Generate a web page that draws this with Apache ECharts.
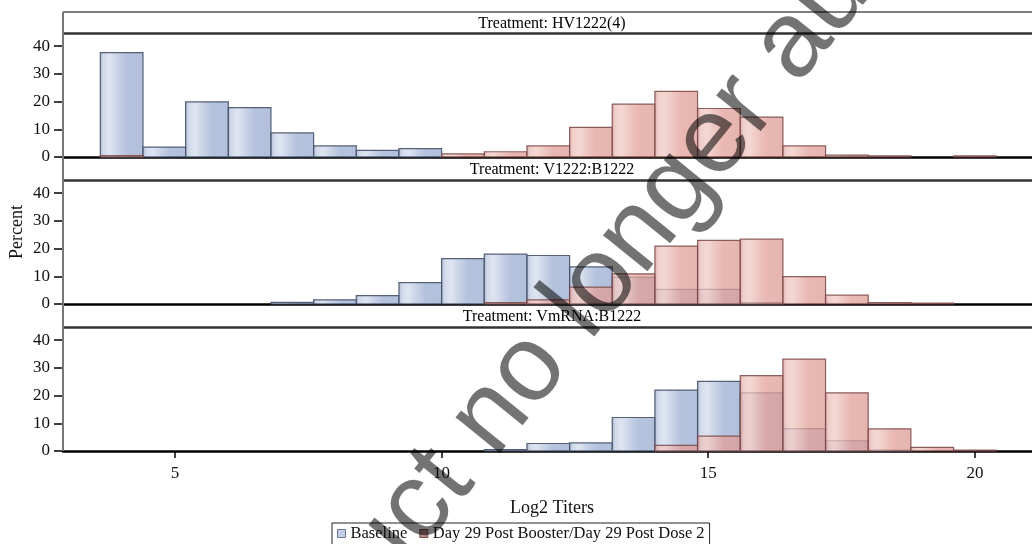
<!DOCTYPE html>
<html>
<head>
<meta charset="utf-8">
<script src="https://cdn.jsdelivr.net/npm/echarts@6/dist/echarts.min.js"></script>
<style>html,body{margin:0;padding:0;background:#fff;}#c{width:1032px;height:544px;}</style>
</head>
<body>
<div id="c"></div>
<script>
// ---- data ----
const binCenters = [4.0, 4.8, 5.6, 6.4, 7.2, 8.0, 8.8, 9.6, 10.4, 11.2, 12.0, 12.8, 13.6, 14.4, 15.2, 16.0, 16.8, 17.6, 18.4, 19.2, 20.0];
const binWidth = 0.8;
const hvBaseline = [37.7, 3.6, 19.9, 17.8, 8.7, 4.0, 2.4, 3.0, 0, 0, 0, 0, 0, 0, 0, 0, 0, 0, 0, 0, 0];
const hvDay29    = [0.5, 0, 0, 0, 0, 0, 0, 0, 1.1, 1.9, 4.0, 10.7, 19.1, 23.7, 17.5, 14.4, 4.0, 0.7, 0.4, 0, 0.4];
const vbBaseline = [0, 0, 0, 0, 0.6, 1.5, 3.0, 7.7, 16.4, 18.0, 17.5, 13.4, 9.6, 5.3, 5.3, 0.5, 0, 0, 0, 0, 0];
const vbDay29    = [0, 0, 0, 0, 0, 0, 0, 0, 0, 0.5, 1.5, 6.1, 10.9, 20.9, 23.0, 23.4, 9.9, 3.2, 0.5, 0.3, 0];
const vmBaseline = [0, 0, 0, 0, 0, 0, 0, 0, 0, 0.5, 2.7, 2.9, 12.1, 22.0, 25.1, 21.0, 8.1, 3.7, 0.3, 0, 0];
const vmDay29    = [0, 0, 0, 0, 0, 0, 0, 0, 0, 0, 0, 0, 0, 2.0, 5.4, 27.2, 33.2, 21.0, 8.0, 1.3, 0.3];
const panelTitles = ['Treatment: HV1222(4)', 'Treatment: V1222:B1222', 'Treatment: VmRNA:B1222'];
const seriesNames = ['Baseline', 'Day 29 Post Booster/Day 29 Post Dose 2'];
const xTicks = [5, 10, 15, 20];
const yTicks = [0, 10, 20, 30, 40];
const xTitle = 'Log2 Titers';
const yTitle = 'Percent';
const watermarkA = 'Medicinal product';
const watermarkB = 'no longer authorised';

// ---- layout / style ----
const FONT = '"Liberation Serif", "Times New Roman", serif';
const gridLeft = 63, gridWidth = 978, gridH = 123;
const gridTops = [34, 181, 328];
const headerTops = [12, 157, 304];
const xMin = 2.9, xMax = 21.24, yMax = 44.4;

const blueStops = [
  {offset: 0, color: 'rgba(140,158,196,0.78)'},
  {offset: 0.08, color: 'rgba(196,207,228,0.78)'},
  {offset: 0.22, color: 'rgba(214,221,236,0.78)'},
  {offset: 0.6, color: 'rgba(160,178,212,0.78)'},
  {offset: 1, color: 'rgba(156,174,210,0.78)'}
];
const redStops = [
  {offset: 0, color: 'rgba(206,140,134,0.75)'},
  {offset: 0.08, color: 'rgba(234,190,184,0.75)'},
  {offset: 0.22, color: 'rgba(240,202,196,0.75)'},
  {offset: 0.6, color: 'rgba(226,160,152,0.75)'},
  {offset: 1, color: 'rgba(222,156,148,0.75)'}
];

function makeRender(stops, stroke) {
  return function (params, api) {
    const c = api.value(0), v = api.value(1);
    if (!(v > 0)) return null;
    const tl = api.coord([c - binWidth / 2, v]);
    const br = api.coord([c + binWidth / 2, 0]);
    return {
      type: 'rect',
      shape: {x: tl[0], y: tl[1], width: br[0] - tl[0], height: br[1] - tl[1]},
      style: {fill: new echarts.graphic.LinearGradient(0, 0, 1, 0, stops), stroke: stroke, lineWidth: 1.2}
    };
  };
}

const panels = [[hvBaseline, hvDay29], [vbBaseline, vbDay29], [vmBaseline, vmDay29]];

const grids = [], xAxes = [], yAxes = [], series = [];
panels.forEach((pair, i) => {
  grids.push({left: gridLeft, width: gridWidth, top: gridTops[i], height: gridH, outerBoundsMode: 'none', containLabel: false});
  const last = i === panels.length - 1;
  xAxes.push({
    type: 'value', gridIndex: i, min: xMin, max: xMax,
    axisLine: {show: true, onZero: false, lineStyle: {color: '#000', width: 2.5}},
    axisTick: {show: last, customValues: xTicks, length: 7, lineStyle: {color: '#000', width: 1.5}},
    axisLabel: {show: last, customValues: xTicks, margin: 14, fontFamily: FONT, fontSize: 17, color: '#111'},
    splitLine: {show: false}
  });
  yAxes.push({
    type: 'value', gridIndex: i, min: 0, max: yMax,
    axisLine: {show: false},
    axisTick: {show: true, customValues: yTicks, length: 9, lineStyle: {color: '#000', width: 1.5}},
    axisLabel: {show: true, customValues: yTicks, margin: 13, fontFamily: FONT, fontSize: 17, color: '#111'},
    splitLine: {show: false}
  });
  series.push({
    type: 'custom', name: seriesNames[0], xAxisIndex: i, yAxisIndex: i,
    renderItem: makeRender(blueStops, 'rgba(70,82,105,0.9)'),
    encode: {x: 0, y: 1},
    itemStyle: {color: '#b4c3de'},
    data: binCenters.map((c, k) => [c, pair[0][k]])
  });
  series.push({
    type: 'custom', name: seriesNames[1], xAxisIndex: i, yAxisIndex: i,
    renderItem: makeRender(redStops, 'rgba(120,70,70,0.85)'),
    encode: {x: 0, y: 1},
    itemStyle: {color: '#c89890'},
    data: binCenters.map((c, k) => [c, pair[1][k]])
  });
});

const graphics = [];
// frame lines
graphics.push({type: 'line', shape: {x1: gridLeft, y1: headerTops[0], x2: 1032, y2: headerTops[0]}, style: {stroke: '#555', lineWidth: 1.5}, z: 50});
gridTops.forEach(t => {
  graphics.push({type: 'line', shape: {x1: gridLeft, y1: t - 0.5, x2: 1032, y2: t - 0.5}, style: {stroke: '#333', lineWidth: 2.5}, z: 50});
});
graphics.push({type: 'line', shape: {x1: gridLeft, y1: headerTops[0], x2: gridLeft, y2: gridTops[2] + gridH}, style: {stroke: '#777', lineWidth: 2}, z: 50});
// panel headers
panelTitles.forEach((t, i) => {
  graphics.push({type: 'text', x: gridLeft + gridWidth / 2, y: (headerTops[i] + gridTops[i]) / 2 + 0.5, z: 51,
    style: {text: t, font: '16px ' + FONT, fill: '#000', align: 'center', verticalAlign: 'middle'}});
});
// axis titles
graphics.push({type: 'text', x: 17, y: 232, rotation: Math.PI / 2, z: 51,
  style: {text: yTitle, font: '18px ' + FONT, fill: '#111', align: 'center', verticalAlign: 'middle'}});
graphics.push({type: 'text', x: gridLeft + gridWidth / 2, y: 508, z: 51,
  style: {text: xTitle, font: '18px ' + FONT, fill: '#111', align: 'center', verticalAlign: 'middle'}});
// watermark
const wmRot = 51 * Math.PI / 180;
const wmFont = '108px "Liberation Sans", Arial, sans-serif';
graphics.push({type: 'text', x: 472.1, y: 440.3, rotation: wmRot, z: 100,
  style: {text: watermarkB, font: wmFont, fill: 'rgba(0,0,0,0.55)', align: 'left', verticalAlign: 'middle'}});
graphics.push({type: 'text', x: 453.2, y: 463.6, rotation: wmRot, z: 100,
  style: {text: watermarkA, font: wmFont, fill: 'rgba(0,0,0,0.55)', align: 'right', verticalAlign: 'middle'}});

const option = {
  animation: false,
  backgroundColor: '#fff',
  grid: grids,
  xAxis: xAxes,
  yAxis: yAxes,
  series: series,
  legend: {
    left: 332, top: 523, orient: 'horizontal',
    padding: [2, 5, 3, 5], itemGap: 12, itemWidth: 8, itemHeight: 8,
    borderColor: '#222', borderWidth: 1,
    icon: 'rect',
    textStyle: {fontFamily: FONT, fontSize: 16.5, color: '#111'},
    data: [
      {name: seriesNames[0], itemStyle: {color: '#c3cfe6', borderColor: '#6a7590', borderWidth: 1}},
      {name: seriesNames[1], itemStyle: {color: '#b98a86', borderColor: '#7a5050', borderWidth: 1}}
    ]
  },
  graphic: graphics
};

const chart = echarts.init(document.getElementById('c'), null, {renderer: 'canvas'});
chart.setOption(option);
</script>
</body>
</html>
